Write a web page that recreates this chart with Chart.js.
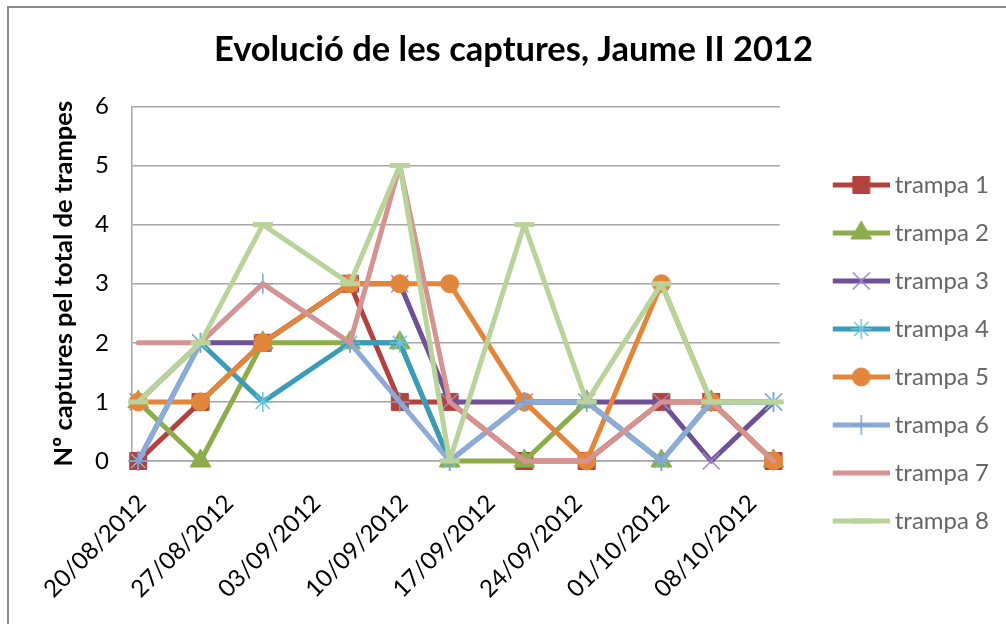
<!DOCTYPE html>
<html>
<head>
<meta charset="utf-8">
<script src="https://cdn.jsdelivr.net/npm/chart.js@4.4.0/dist/chart.umd.min.js"></script>
<style>
  html, body { margin: 0; padding: 0; background: #fff; overflow: hidden; }
  #frame { position: absolute; left: 7px; top: 6px; width: 1100px; height: 700px;
           border-left: 2px solid #8c8c8c; border-top: 2px solid #8c8c8c; }
  #chart { position: absolute; left: 0; top: 0; }
</style>
</head>
<body>
<div id="frame"></div>
<canvas id="chart" width="1006" height="624"></canvas>
<script>
// dates of each sampling (dd/mm/yyyy)
const dates = ['20/08/2012', '25/08/2012', '30/08/2012', '06/09/2012', '10/09/2012', '14/09/2012',
               '20/09/2012', '25/09/2012', '01/10/2012', '05/10/2012', '10/10/2012'];
const tickDates = ['20/08/2012', '27/08/2012', '03/09/2012', '10/09/2012',
                   '17/09/2012', '24/09/2012', '01/10/2012', '08/10/2012'];

const trampa1 = [0, 1, 2, 3, 1, 1, 0, 0, 1, 1, 0];
const trampa2 = [1, 0, 2, 2, 2, 0, 0, 1, 0, 1, 0];
const trampa3 = [1, 2, 2, 3, 3, 1, 1, 1, 1, 0, 1];
const trampa4 = [0, 2, 1, 2, 2, 0, 1, 1, 0, 1, 1];
const trampa5 = [1, 1, 2, 3, 3, 3, 1, 0, 3, 1, 0];
const trampa6 = [0, 2, 3, 2, 1, 0, 1, 1, 0, 1, 1];
const trampa7 = [2, 2, 3, 2, 5, 1, 0, 0, 1, 1, 0];
const trampa8 = [1, 2, 4, 3, 5, 0, 4, 1, 3, 1, 1];

const seriesNames = ['trampa 1', 'trampa 2', 'trampa 3', 'trampa 4', 'trampa 5', 'trampa 6', 'trampa 7', 'trampa 8'];
const seriesValues = [trampa1, trampa2, trampa3, trampa4, trampa5, trampa6, trampa7, trampa8];

const yMin = 0, yMax = 6;
const chartTitle = 'Evolució de les captures, Jaume II 2012';
const yTitle = 'Nº captures pel total de trampes';

// look of each series (Excel style)
const styles = [
  { color: '#b3423f', marker: 'rect',     radius: 12, fill: '#b3423f', edge: '#b3423f', edgeW: 1 },
  { color: '#8cad4a', marker: 'triangle', radius: 12, fill: '#8cad4a', edge: '#8cad4a', edgeW: 1 },
  { color: '#6e5196', marker: 'crossRot', radius: 12, fill: '#9b86c2', edge: '#9b86c2', edgeW: 1.5 },
  { color: '#3a9cb8', marker: 'star',     radius: 10, fill: '#6cc4dc', edge: '#6cc4dc', edgeW: 1.5 },
  { color: '#e3863b', marker: 'circle',   radius: 9,  fill: '#e3863b', edge: '#e3863b', edgeW: 1 },
  { color: '#8eaad6', marker: 'cross',    radius: 10, fill: '#8eaad6', edge: '#7f9fd2', edgeW: 1.5 },
  { color: '#d59391', marker: 'circle',   radius: 0,  fill: '#d59391', edge: '#d59391', edgeW: 1 },
  { color: '#b9d39a', marker: 'line',     radius: 10, fill: '#b9d39a', edge: '#b9d39a', edgeW: 5 }
];

const FONT = 'Lato, "Open Sans", sans-serif';
const LINE_W = 5;

function dayOf(s) {
  const [d, m, y] = s.split('/').map(Number);
  const [d0, m0, y0] = dates[0].split('/').map(Number);
  return Math.round((Date.UTC(y, m - 1, d) - Date.UTC(y0, m0 - 1, d0)) / 864e5);
}

// legend icon: line + marker, like Excel. The box is BOX_W wide, the image is
// wider and centred on the box so the line can start a bit right of the box edge.
const BOX_W = 79, ICON_W = 93, ICON_H = 26, LINE_X0 = 36, LINE_X1 = 93;
function legendIcon(st) {
  const c = document.createElement('canvas');
  c.width = ICON_W; c.height = ICON_H;
  const ctx = c.getContext('2d');
  ctx.strokeStyle = st.color;
  ctx.lineWidth = LINE_W;
  ctx.lineCap = 'butt';
  ctx.beginPath();
  ctx.moveTo(LINE_X0, ICON_H / 2);
  ctx.lineTo(LINE_X1, ICON_H / 2);
  ctx.stroke();
  if (st.radius > 0) {
    ctx.fillStyle = st.fill;
    ctx.strokeStyle = st.edge;
    ctx.lineWidth = st.edgeW;
    Chart.helpers.drawPoint(ctx, { pointStyle: st.marker, radius: st.radius, rotation: 0, borderWidth: st.edgeW },
      (LINE_X0 + LINE_X1) / 2, ICON_H / 2);
  }
  return c;
}

const datasets = seriesValues.map((vals, i) => {
  const st = styles[i];
  return {
    label: seriesNames[i],
    data: vals.map((v, j) => ({ x: dayOf(dates[j]), y: v })),
    borderColor: st.color,
    backgroundColor: st.color,
    borderWidth: LINE_W,
    borderJoinStyle: 'round',
    borderCapStyle: 'round',
    tension: 0,
    pointStyle: st.marker,
    pointRadius: st.radius,
    pointBackgroundColor: st.fill,
    pointBorderColor: st.edge,
    pointBorderWidth: st.edgeW,
    order: seriesValues.length - i,   // later series drawn on top, as in Excel
    clip: false
  };
});

const lastDay = dayOf(dates[dates.length - 1]);

new Chart(document.getElementById('chart'), {
  type: 'line',
  data: { datasets: datasets },
  options: {
    responsive: false,
    animation: false,
    events: [],
    layout: { padding: { left: 28, right: 7, top: 20, bottom: 0 } },
    plugins: {
      title: {
        display: true,
        text: chartTitle,
        color: '#000',
        font: { family: FONT, size: 34.5, weight: 'bold' },
        padding: { top: 9, bottom: 36 }
      },
      legend: {
        position: 'right',
        title: { display: true, text: ' ', font: { family: FONT, size: 10, lineHeight: 1 }, padding: { top: 52, bottom: 0 } },
        labels: {
          usePointStyle: true,
          pointStyleWidth: BOX_W,
          color: '#000',
          padding: 24,
          font: { family: FONT, size: 24 },
          generateLabels: chart => chart.data.datasets.map((ds, i) => ({
            text: ds.label,
            pointStyle: legendIcon(styles[i]),
            fillStyle: ds.borderColor,
            strokeStyle: ds.borderColor,
            lineWidth: 0,
            hidden: false,
            datasetIndex: i
          }))
        }
      },
      tooltip: { enabled: false }
    },
    scales: {
      x: {
        type: 'linear',
        min: -0.5,
        max: lastDay + 0.5,
        grid: { display: false },
        border: { display: true, color: '#a6a6a6', width: 1.5 },
        afterBuildTicks: axis => { axis.ticks = tickDates.map(d => ({ value: dayOf(d) })); },
        afterFit: axis => { axis.height = 163; },
        ticks: {
          autoSkip: false,
          minRotation: 45,
          maxRotation: 45,
          padding: 20,
          labelOffset: 4,
          color: '#000',
          font: { family: FONT, size: 24 },
          callback: value => tickDates[tickDates.map(dayOf).indexOf(value)] || ''
        }
      },
      y: {
        min: yMin,
        max: yMax,
        grid: { color: '#a6a6a6', lineWidth: 1.5, drawTicks: false },
        border: { display: true, color: '#a6a6a6', width: 1.5 },
        afterFit: axis => { axis.width = 104; },
        ticks: {
          stepSize: 1,
          padding: 23,
          color: '#000',
          font: { family: FONT, size: 24 }
        },
        title: {
          display: true,
          text: yTitle,
          color: '#000',
          font: { family: FONT, size: 25.5, weight: 'bold' },
          padding: { top: 20, bottom: 0 }
        }
      }
    }
  }
});
</script>
</body>
</html>
